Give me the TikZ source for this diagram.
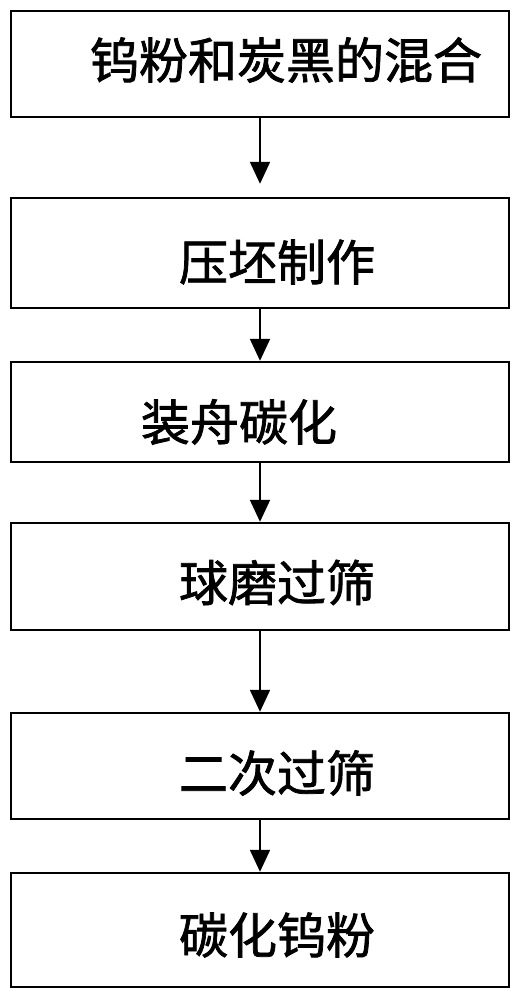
\documentclass[tikz,border=0pt]{standalone}
\usepackage{fontspec}
\newfontfamily\cjk{Noto Sans CJK SC}[FakeBold=1.5]
\usetikzlibrary{arrows.meta}
\tikzset{
  stepbox/.style={draw,line width=1.2pt,minimum width=249pt,inner sep=0pt},
  steptext/.style={font=\cjk\fontsize{24.5}{28}\selectfont,inner sep=0pt},
  flow/.style={-{Triangle[length=11pt,width=10pt]},line width=1pt}
}
\begin{document}
\begin{tikzpicture}[x=0.5pt,y=-0.5pt]
\useasboundingbox (0,0) rectangle (521,1000);
%Process steps, top to bottom
    \node[stepbox,minimum height=53pt,label={[steptext,xshift=13pt,yshift=2pt]center:钨粉和炭黑的混合}] (mix) at (260,64) {};
    \node[stepbox,minimum height=55pt,label={[steptext,xshift=8.5pt,yshift=-4.5pt]center:压坯制作}] (press) at (260,253) {};
    \node[stepbox,minimum height=50pt,label={[steptext,xshift=-10.5pt,yshift=-5pt]center:装舟碳化}] (boat) at (260,412) {};
    \node[stepbox,minimum height=53.5pt,label={[steptext,xshift=8.5pt,yshift=-3pt]center:球磨过筛}] (mill) at (260,576.5) {};
    \node[stepbox,minimum height=53pt,label={[steptext,xshift=8.5pt,yshift=-3.5pt]center:二次过筛}] (sieve) at (260,766) {};
    \node[stepbox,minimum height=57pt,label={[steptext,xshift=8.5pt,yshift=-2.5pt]center:碳化钨粉}] (wc) at (260,930) {};

%Arrows between the steps
    \draw[flow,shorten >=6.5pt] (mix) -- (press);
    \foreach \from/\to in {press/boat,boat/mill,mill/sieve,sieve/wc}
        \draw[flow] (\from) -- (\to);
\end{tikzpicture}
\end{document}
